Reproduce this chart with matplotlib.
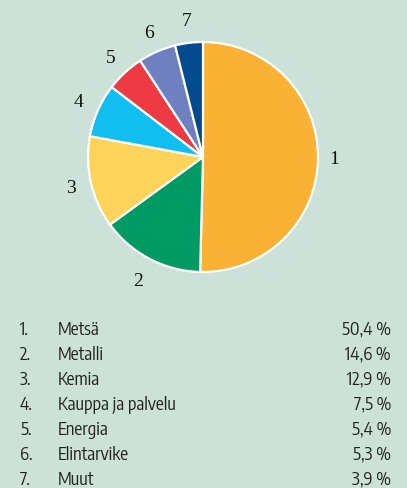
import numpy as np
import matplotlib
matplotlib.use("Agg")
import matplotlib.pyplot as plt

numbers = ["1", "2", "3", "4", "5", "6", "7"]
categories = ["Metsä", "Metalli", "Kemia", "Kauppa ja palvelu", "Energia", "Elintarvike", "Muut"]
values = [50.4, 14.6, 12.9, 7.5, 5.4, 5.3, 3.9]
value_labels = ["50,4 %", "14,6 %", "12,9 %", "7,5 %", "5,4 %", "5,3 %", "3,9 %"]
colors = ["#F9B233", "#009B64", "#FDD35A", "#10BFEF", "#EE3A43", "#6F80C0", "#034A8E"]

W, H = 407, 489
bg = "#CCE2D9"
fig = plt.figure(figsize=(W / 100, H / 100), dpi=100, facecolor=bg)

cx, cy, r = 203, 158, 115
pad = 1.35
ax = fig.add_axes([(cx - r * pad) / W, 1 - (cy + r * pad) / H, 2 * r * pad / W, 2 * r * pad / H])
ax.set_facecolor(bg)
ax.axis("off")
wedges, _ = ax.pie(values, colors=colors, startangle=90, counterclock=False,
                   wedgeprops=dict(edgecolor="white", linewidth=1.6), radius=1)
ax.set_xlim(-pad, pad)
ax.set_ylim(-pad, pad)
ax.set_aspect("equal")

dists = [1.14, 1.21, 1.18, 1.18, 1.18, 1.18, 1.2]
for w, lab, d in zip(wedges, numbers, dists):
    ang = np.deg2rad((w.theta1 + w.theta2) / 2)
    ax.text(d * np.cos(ang), d * np.sin(ang), lab, ha="center", va="center",
            fontsize=14, family=["Liberation Serif", "DejaVu Serif"], color="#111111")

tf = ["Encode Sans Condensed", "DejaVu Sans"]
y0, dy = 330, 25
for i, (n, c, v) in enumerate(zip(numbers, categories, value_labels)):
    y = 1 - (y0 + i * dy) / H
    kw = dict(va="center", fontsize=12.7, family=tf, color="#222222")
    fig.text(20 / W, y, n + ".", ha="left", **kw)
    fig.text(58 / W, y, c, ha="left", **kw)
    fig.text(391 / W, y, v, ha="right", **kw)

fig.savefig("out.png", dpi=100, facecolor=bg)
